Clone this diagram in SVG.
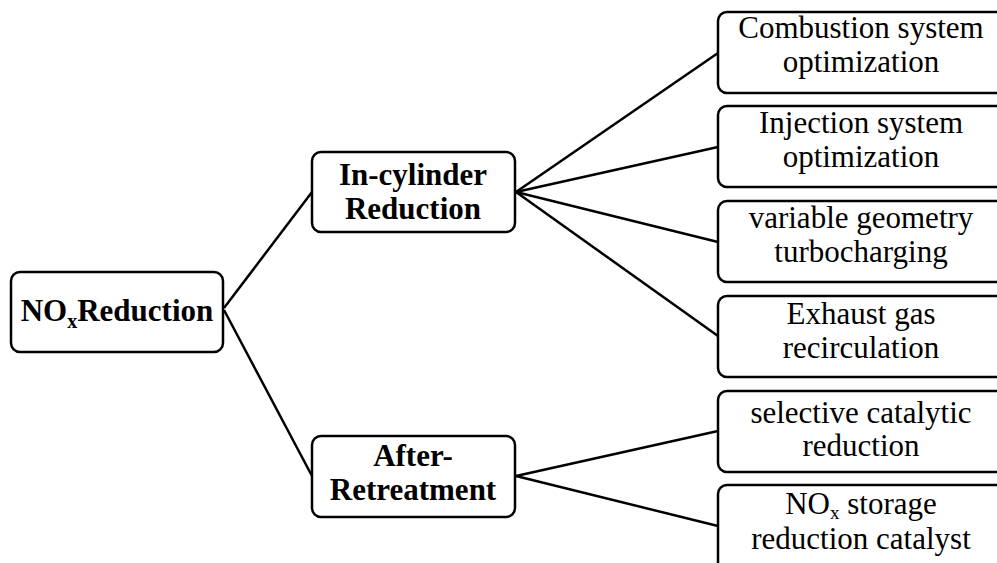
<svg xmlns="http://www.w3.org/2000/svg" width="997" height="563" viewBox="0 0 997 563">
<style>
.box{fill:#fff;stroke:#000;stroke-width:2.5}
.con{stroke:#000;stroke-width:2.5;fill:none}
.b{font-family:"Liberation Serif","Times New Roman",serif;font-weight:bold;font-size:31px;text-anchor:middle;fill:#000}
.r{font-family:"Liberation Serif","Times New Roman",serif;font-size:31px;text-anchor:middle;fill:#000}
</style>
<rect width="997" height="563" fill="#fff"/>
<g id="connectors">
<line class="con" x1="224" y1="308" x2="312" y2="192"/>
<line class="con" x1="224" y1="310" x2="312" y2="476"/>
<line class="con" x1="516" y1="192" x2="718" y2="53"/>
<line class="con" x1="516" y1="192" x2="718" y2="147"/>
<line class="con" x1="516" y1="192" x2="718" y2="242"/>
<line class="con" x1="516" y1="192" x2="718" y2="336"/>
<line class="con" x1="516" y1="476" x2="718" y2="431"/>
<line class="con" x1="516" y1="476" x2="718" y2="526"/>
</g>
<g id="n-nox">
<rect class="box" x="11" y="272" width="212" height="80" rx="9"/>
<text class="b" x="117" y="321">NO<tspan font-size="20" dy="7">x</tspan><tspan dy="-7">Reduction</tspan></text>
</g>
<g id="n-incyl">
<rect class="box" x="312" y="152" width="203" height="80" rx="9"/>
<text class="b" x="413" y="185">In-cylinder</text>
<text class="b" x="413" y="219">Reduction</text>
</g>
<g id="n-after">
<rect class="box" x="312" y="436" width="203" height="81" rx="9"/>
<text class="b" x="413" y="466">After-</text>
<text class="b" x="413" y="500">Retreatment</text>
</g>
<g id="n-comb">
<rect class="box" x="718" y="12" width="300" height="81" rx="9"/>
<text class="r" x="861" y="38">Combustion system</text>
<text class="r" x="861" y="72">optimization</text>
</g>
<g id="n-inj">
<rect class="box" x="718" y="106" width="300" height="81" rx="9"/>
<text class="r" x="861" y="133">Injection system</text>
<text class="r" x="861" y="167">optimization</text>
</g>
<g id="n-vgt">
<rect class="box" x="718" y="201" width="300" height="81" rx="9"/>
<text class="r" x="861" y="228">variable geometry</text>
<text class="r" x="861" y="262">turbocharging</text>
</g>
<g id="n-egr">
<rect class="box" x="718" y="296" width="300" height="81" rx="9"/>
<text class="r" x="861" y="324">Exhaust gas</text>
<text class="r" x="861" y="358">recirculation</text>
</g>
<g id="n-scr">
<rect class="box" x="718" y="391" width="300" height="81" rx="9"/>
<text class="r" x="861" y="423">selective catalytic</text>
<text class="r" x="861" y="456">reduction</text>
</g>
<g id="n-nsr">
<rect class="box" x="718" y="485" width="300" height="90" rx="9"/>
<text class="r" x="861" y="514">NO<tspan font-size="19" dy="5">x</tspan><tspan dy="-5"> storage</tspan></text>
<text class="r" x="861" y="549">reduction catalyst</text>
</g>
</svg>
